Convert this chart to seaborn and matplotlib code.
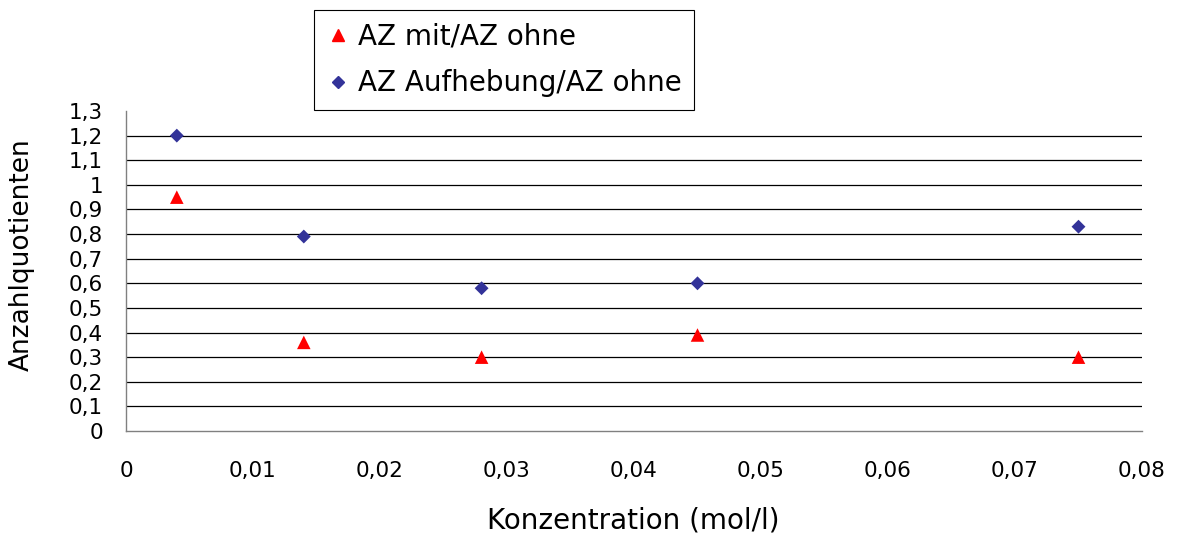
import matplotlib
matplotlib.use("Agg")
import matplotlib.pyplot as plt
from matplotlib.ticker import FuncFormatter, MultipleLocator
from matplotlib.lines import Line2D
import seaborn as sns
import pandas as pd

# Messwerte
konzentration = [0.004, 0.014, 0.028, 0.045, 0.075]
az_mit = [0.95, 0.36, 0.30, 0.39, 0.30]
az_aufhebung = [1.20, 0.79, 0.58, 0.60, 0.83]
serien = ["AZ mit/AZ ohne", "AZ Aufhebung/AZ ohne"]

sns.set_theme(style="white")
plt.rcParams["font.family"] = ["DejaVu Sans"]
plt.rcParams["text.color"] = "black"
plt.rcParams["axes.labelcolor"] = "black"

df_mit = pd.DataFrame({"x": konzentration, "y": az_mit})
df_auf = pd.DataFrame({"x": konzentration, "y": az_aufhebung})

fig = plt.figure(figsize=(11.81, 5.33), dpi=100)
ax = fig.add_axes([126 / 1181, 1 - 431 / 533, (1142 - 126) / 1181, (431 - 111) / 533])

sns.scatterplot(data=df_mit, x="x", y="y", marker="^", color="#FF0000",
                s=95, edgecolor="none", ax=ax, zorder=3, legend=False)
sns.scatterplot(data=df_auf, x="x", y="y", marker="D", color="#333399",
                s=50, edgecolor="none", ax=ax, zorder=3, legend=False)

ax.set_xlim(0, 0.08)
ax.set_ylim(0, 1.3)
ax.xaxis.set_major_locator(MultipleLocator(0.01))
ax.yaxis.set_major_locator(MultipleLocator(0.1))


def komma(v, pos):
    return f"{round(v, 4):g}".replace(".", ",")


ax.xaxis.set_major_formatter(FuncFormatter(komma))
ax.yaxis.set_major_formatter(FuncFormatter(komma))

ax.yaxis.grid(True, color="black", linewidth=0.9)
ax.xaxis.grid(False)

for side in ("top", "right"):
    ax.spines[side].set_visible(False)
for side in ("left", "bottom"):
    ax.spines[side].set_color("#808080")
    ax.spines[side].set_linewidth(1.0)

ax.tick_params(axis="both", direction="out", length=6.5, width=1.0,
               color="#808080", labelsize=15.5, labelcolor="black")
ax.tick_params(axis="x", pad=15)
ax.tick_params(axis="y", pad=10)

ax.set_xlabel("Konzentration (mol/l)", fontsize=20)
ax.set_ylabel("Anzahlquotienten", fontsize=19)
ax.xaxis.set_label_coords(0.499, -0.235)
ax.yaxis.set_label_coords(-0.09, 0.55)

handles = [
    Line2D([], [], linestyle="none", marker="^", color="#FF0000", markersize=9),
    Line2D([], [], linestyle="none", marker="D", color="#333399", markersize=6),
]
leg = fig.legend(handles, serien, loc="upper left",
                 bbox_to_anchor=(314 / 1181, 1 - 10 / 533),
                 fontsize=20, frameon=True, fancybox=False, framealpha=1,
                 edgecolor="black", handlelength=0.8, handletextpad=0.32,
                 borderpad=0.45, labelspacing=0.68, borderaxespad=0)
leg.get_frame().set_linewidth(0.8)

# Keine Gitterlinie an der Achse selbst und am oberen Rand
fig.canvas.draw()
for tick in ax.yaxis.get_major_ticks():
    loc = tick.get_loc()
    if loc <= 1e-9 or loc >= 1.3 - 1e-9:
        tick.gridline.set_visible(False)

fig.savefig("out.png", dpi=100, facecolor="white")
